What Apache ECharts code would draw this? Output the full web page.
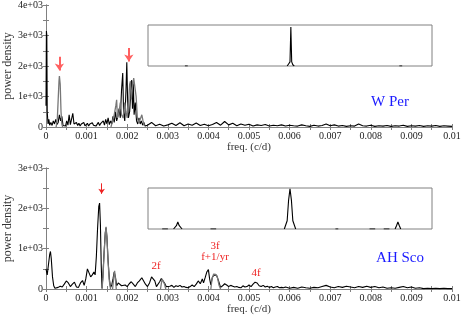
<!DOCTYPE html>
<html><head><meta charset="utf-8">
<script src="https://cdn.jsdelivr.net/npm/echarts@6/dist/echarts.min.js"></script>
<style>html,body{margin:0;padding:0;background:#fff}#c{width:463px;height:317px}</style>
</head><body><div id="c"></div>
<script>
// ---- data ----
const xTicks = ['0','0.001','0.002','0.003','0.004','0.005','0.006','0.007','0.008','0.009','0.01'];
const wperBlack = [[0,700],[0.00001,3150],[0.00002,3000],[0.00003,500],[0.00005,100],[0.00007,250],[0.00009,60],[0.00012,150],[0.00015,50],[0.00018,200],[0.00021,100],[0.00024,250],[0.00027,80],[0.0003,150],[0.00033,400],[0.00036,200],[0.00039,350],[0.00042,50],[0.00045,100],[0.00048,30],[0.00051,200],[0.00054,60],[0.00057,400],[0.0006,80],[0.00063,50],[0.00066,450],[0.00069,100],[0.00072,40],[0.00075,150],[0.00078,50],[0.00081,120],[0.00084,30],[0.00087,100],[0.0009,60],[0.00093,150],[0.00096,40],[0.00099,80],[0.00102,120],[0.00105,30],[0.00108,100],[0.00111,50],[0.00114,140],[0.00117,60],[0.0012,100],[0.00123,30],[0.00126,90],[0.00129,150],[0.00132,50],[0.00135,120],[0.00138,80],[0.00141,200],[0.00144,60],[0.00147,250],[0.0015,100],[0.00153,300],[0.00156,80],[0.00159,200],[0.00162,100],[0.00165,350],[0.00168,150],[0.00171,500],[0.00174,200],[0.00177,350],[0.0018,600],[0.00183,300],[0.00186,1200],[0.00189,1770],[0.00191,500],[0.00194,200],[0.00197,1200],[0.00199,2120],[0.00201,900],[0.00203,300],[0.00206,500],[0.00209,1200],[0.00211,1540],[0.00213,600],[0.00215,1500],[0.00217,400],[0.0022,800],[0.00223,200],[0.00226,100],[0.00229,300],[0.00232,100],[0.00235,200],[0.00238,60],[0.00241,150],[0.00244,30],[0.00247,80],
[0.0025,60],[0.0026,150],[0.0027,40],[0.0028,90],[0.0029,30],[0.003,70],[0.0031,120],[0.0032,50],[0.0033,140],[0.0034,40],[0.0035,100],[0.0036,60],[0.0037,130],[0.0038,50],[0.0039,90],[0.004,40],[0.0041,80],[0.0042,150],[0.0043,60],[0.0044,180],[0.0045,70],[0.0046,120],[0.0047,40],[0.0048,100],[0.0049,60],[0.005,90],[0.0051,30],[0.0052,70],[0.0053,50],[0.0054,80],[0.0055,30],[0.0056,60],[0.0057,40],[0.0058,70],[0.0059,30],[0.006,60],[0.0061,40],[0.0062,30],[0.0063,70],[0.0064,40],[0.0065,20],[0.0066,60],[0.0067,30],[0.0068,50],[0.0069,100],[0.007,40],[0.0071,70],[0.0072,30],[0.0073,50],[0.0074,20],[0.0075,40],[0.0076,30],[0.0077,100],[0.0078,40],[0.0079,30],[0.008,60],[0.0081,20],[0.0082,40],[0.0083,30],[0.0084,50],[0.0085,20],[0.0086,40],[0.0087,30],[0.0088,60],[0.0089,20],[0.009,40],[0.0091,30],[0.0092,50],[0.0093,20],[0.0094,40],[0.0095,30],[0.0096,50],[0.0097,20],[0.0098,40],[0.0099,30],[0.01,20]];
const wperGray = [[0.00025,0],[0.00028,300],[0.0003,900],[0.00032,1500],[0.00033,1670],[0.00035,1400],[0.00037,500],[0.00039,100],[0.00041,0],[0.0005,'-'],[0.0016,0],[0.00164,200],[0.00168,400],[0.00172,700],[0.00174,890],[0.00176,300],[0.0018,500],[0.00183,800],[0.00186,400],[0.0019,300],[0.00194,800],[0.00197,500],[0.002,300],[0.00203,700],[0.00206,1400],[0.00208,1500],[0.0021,900],[0.00213,1300],[0.00216,1600],[0.00219,1650],[0.00222,1000],[0.00225,300],[0.00228,150],[0.00232,250],[0.00236,400],[0.00239,200],[0.00242,50]];
const ahscoBlack = [[0,500],[0.00003,350],[0.00006,600],[0.00009,850],[0.00011,930],[0.00013,750],[0.00016,300],[0.00019,80],[0.00022,20],[0.00025,60],[0.0003,40],[0.00035,70],[0.0004,50],[0.00045,120],[0.0005,200],[0.00055,150],[0.0006,60],[0.00065,120],[0.0007,170],[0.00075,50],[0.0008,40],[0.00085,150],[0.0009,210],[0.00094,90],[0.00098,250],[0.00102,500],[0.00106,400],[0.0011,300],[0.00114,350],[0.00118,420],[0.00121,350],[0.00124,800],[0.00127,1500],[0.0013,2050],[0.00132,2130],[0.00134,1600],[0.00136,600],[0.00138,20],[0.0014,300],[0.00143,900],[0.00146,1400],[0.00148,1520],[0.0015,1300],[0.00153,700],[0.00156,250],[0.00159,40],[0.00162,100],[0.00165,250],[0.00168,420],[0.00171,300],[0.00174,80],[0.00178,150],[0.00182,120],[0.00186,80],[0.0019,120],[0.00195,100],[0.002,60],[0.00205,130],[0.0021,180],[0.00215,120],[0.0022,60],[0.00225,150],[0.0023,200],[0.00236,280],[0.0024,250],[0.00245,120],[0.0025,60],[0.00255,150],[0.0026,300],[0.00264,320],[0.00268,200],[0.00272,60],[0.00276,100],[0.0028,180],[0.00284,260],[0.00288,270],[0.00292,150],[0.00296,60],[0.003,100],[0.00305,70],[0.0031,90],[0.00315,40],[0.0032,80],[0.00325,60],[0.0033,90],[0.00335,50],[0.0034,60],[0.00345,40],[0.0035,30],[0.00355,60],[0.0036,100],[0.00365,60],[0.0037,120],[0.00375,200],[0.0038,130],[0.00385,250],[0.00388,150],[0.00392,280],[0.00396,420],[0.004,480],[0.00403,250],[0.00406,100],[0.0041,300],[0.00415,350],[0.0042,340],[0.00425,200],[0.0043,40],[0.00435,80],[0.0044,130],[0.00445,100],[0.0045,60],[0.00455,90],[0.0046,70],[0.00465,50],[0.0047,60],[0.00475,40],[0.0048,30],[0.00485,80],[0.0049,50],[0.00495,60],[0.005,100],[0.00505,60],[0.0051,120],[0.00515,170],[0.0052,150],[0.00525,80],[0.0053,60],[0.00535,90],[0.0054,50],[0.00545,70],[0.0055,40],[0.00555,60],[0.0056,30],[0.00565,50],[0.0057,60],[0.00575,30],[0.0058,40],[0.00585,30],[0.0059,50],[0.006,20],[0.0061,40],[0.0062,20],[0.0063,50],[0.0064,30],[0.0065,20],[0.0066,40],[0.0067,30],[0.0068,60],[0.0069,90],[0.007,50],[0.0071,30],[0.0072,60],[0.0073,40],[0.0074,70],[0.0075,50],[0.0076,30],[0.0077,60],[0.0078,40],[0.0079,70],[0.008,40],[0.0081,60],[0.0082,30],[0.0083,50],[0.0084,20],[0.0085,30],[0.0086,20],[0.0087,40],[0.0088,60],[0.0089,30],[0.009,50],[0.0091,20],[0.0092,30],[0.0093,10],[0.0094,20],[0.0095,10],[0.0096,20],[0.0097,10],[0.0098,20],[0.0099,10],[0.01,10]];
const ahscoGray = [[0.00138,0],[0.0014,250],[0.00143,850],[0.00146,1350],[0.00148,1540],[0.0015,1250],[0.00153,650],[0.00156,200],[0.00159,0],[0.0016,'-'],[0.00164,0],[0.00167,300],[0.00169,450],[0.00171,250],[0.00173,0],[0.0020,'-'],[0.00282,0],[0.00286,250],[0.00289,280],[0.00292,120],[0.00295,0],[0.0035,'-'],[0.00406,0],[0.00409,250],[0.00413,370],[0.00418,360],[0.00422,300],[0.00426,100],[0.0043,0]];
const wperInset = [[0.13,0],[0.135,0.03],[0.14,0],[0.2,'-'],[0.49,0],[0.495,0.05],[0.5,0.1],[0.503,0.95],[0.506,0.1],[0.51,0.03],[0.515,0],[0.6,'-'],[0.885,0],[0.89,0.03],[0.895,0]];
const ahscoInset = [[0.05,0],[0.07,0],[0.08,'-'],[0.09,0],[0.1,0.08],[0.105,0.17],[0.11,0.08],[0.12,0],[0.14,'-'],[0.22,0],[0.24,0],[0.25,'-'],[0.48,0],[0.49,0.2],[0.495,0.7],[0.5,0.98],[0.505,0.7],[0.51,0.2],[0.52,0],[0.55,'-'],[0.66,0],[0.67,0],[0.68,'-'],[0.78,0],[0.8,0],[0.81,'-'],[0.83,0],[0.85,0],[0.86,'-'],[0.87,0],[0.875,0.08],[0.88,0.17],[0.885,0.08],[0.89,0]];
const wperMax = 4000, ahscoMax = 3000;
const wperArrows = [[0.00033,2300,1850],[0.00204,2590,2150]];
const ahscoArrow = [[0.00137,2620,2360]];

// ---- chart ----
const FONT = 'Liberation Serif';
const AX = '#808080';
const fmtX = v => v === 0 ? '0' : String(parseFloat(v.toFixed(4)));
const fmtY = v => v === 0 ? '0' : (v/1000) + 'e+03';
function xMain(gi){
  return {type:'value', gridIndex:gi, min:0, max:0.01, interval:0.001,
    axisLine:{show:true, lineStyle:{color:AX}},
    axisTick:{show:true, inside:true, length:3, lineStyle:{color:AX}},
    minorTick:{show:true, splitNumber:2, length:3, lineStyle:{color:AX}},
    splitLine:{show:false},
    axisLabel:{formatter:fmtX, fontFamily:FONT, fontSize:10, color:'#222', margin:4},
    name:'freq. (c/d)', nameLocation:'middle', nameGap:15, nameMoveOverlap:false,
    nameTextStyle:{fontFamily:FONT, fontSize:11, color:'#333'}};
}
function xMirror(gi){
  return {type:'value', gridIndex:gi, min:0, max:0.01, interval:0.001, position:'top',
    axisLine:{show:true, lineStyle:{color:AX}},
    axisTick:{show:true, inside:true, length:3, lineStyle:{color:AX}},
    minorTick:{show:true, splitNumber:2, length:3, lineStyle:{color:AX}},
    splitLine:{show:false}, axisLabel:{show:false}};
}
function yMain(gi,max){
  return {type:'value', gridIndex:gi, min:0, max:max, interval:1000,
    axisLine:{show:true, lineStyle:{color:AX}},
    axisTick:{show:true, inside:true, length:3, lineStyle:{color:AX}},
    minorTick:{show:true, splitNumber:2, length:3, lineStyle:{color:AX}},
    splitLine:{show:false},
    axisLabel:{formatter:fmtY, fontFamily:FONT, fontSize:10, color:'#222', margin:3},
    name:'power density', nameLocation:'middle', nameGap:32, nameMoveOverlap:false,
    nameTextStyle:{fontFamily:FONT, fontSize:12, color:'#333'}};
}
function yMirror(gi,max){
  return {type:'value', gridIndex:gi, min:0, max:max, interval:1000, position:'right',
    axisLine:{show:true, lineStyle:{color:AX}},
    axisTick:{show:true, inside:true, length:3, lineStyle:{color:AX}},
    minorTick:{show:true, splitNumber:2, length:3, lineStyle:{color:AX}},
    splitLine:{show:false}, axisLabel:{show:false}};
}
function insetX(gi){ return {type:'value', gridIndex:gi, min:0, max:1, show:false}; }
function insetY(gi){ return {type:'value', gridIndex:gi, min:0, max:1, show:false}; }
function arrowLine(list, w, color, size){
  return {silent:true, symbol:['none','arrow'], symbolSize:size, label:{show:false},
    lineStyle:{color:color, width:w, type:'solid'},
    data:list.map(a => [{coord:[a[0],a[1]]},{coord:[a[0],a[2]]}])};
}
function line(data, xi, yi, color, w, extra){
  return Object.assign({type:'line', data:data, xAxisIndex:xi, yAxisIndex:yi, showSymbol:false,
    symbol:'none', lineStyle:{color:color, width:w}, itemStyle:{color:color}, connectNulls:false, animation:false}, extra||{});
}

const chart = echarts.init(document.getElementById('c'), null, {renderer:'canvas'});
chart.setOption({
  animation:false,
  backgroundColor:'#fff',
  grid:[
    {left:46, top:5, width:406, height:122, outerBoundsMode:'none', containLabel:false},
    {left:46, top:168, width:406, height:121, outerBoundsMode:'none', containLabel:false},
    {left:148, top:25, width:284, height:41, show:true, borderColor:AX, borderWidth:1, backgroundColor:'transparent', outerBoundsMode:'none'},
    {left:148, top:188, width:284, height:41, show:true, borderColor:AX, borderWidth:1, backgroundColor:'transparent', outerBoundsMode:'none'}
  ],
  xAxis:[xMain(0), xMirror(0), xMain(1), xMirror(1), insetX(2), insetX(3)],
  yAxis:[yMain(0,wperMax), yMirror(0,wperMax), yMain(1,ahscoMax), yMirror(1,ahscoMax), insetY(2), insetY(3)],
  series:[
    line(wperBlack,0,0,'#000',1.1),
    line(wperGray,0,0,'#777',1.3,{markLine:arrowLine(wperArrows,2,'#ff6060',[7,7])}),
    line(ahscoBlack,2,2,'#000',1.1),
    line(ahscoGray,2,2,'#777',1.3,{markLine:arrowLine(ahscoArrow,1,'#ee2222',[5,5])}),
    line(wperInset,4,4,'#000',1.1),
    line(ahscoInset,5,5,'#000',1.1)
  ],
  graphic:[
    {type:'text', x:390, y:102, style:{text:'W Per', fill:'#1a1aff', font:'15px "Liberation Serif"', align:'center', verticalAlign:'middle'}},
    {type:'text', x:400, y:258, style:{text:'AH Sco', fill:'#1a1aff', font:'15px "Liberation Serif"', align:'center', verticalAlign:'middle'}},
    {type:'text', x:156, y:266, style:{text:'2f', fill:'#ee2222', font:'11px "Liberation Serif"', align:'center', verticalAlign:'middle'}},
    {type:'text', x:215, y:246, style:{text:'3f', fill:'#ee2222', font:'11px "Liberation Serif"', align:'center', verticalAlign:'middle'}},
    {type:'text', x:215, y:257, style:{text:'f+1/yr', fill:'#ee2222', font:'11px "Liberation Serif"', align:'center', verticalAlign:'middle'}},
    {type:'text', x:256, y:273, style:{text:'4f', fill:'#ee2222', font:'11px "Liberation Serif"', align:'center', verticalAlign:'middle'}}
  ]
});
</script></body></html>
